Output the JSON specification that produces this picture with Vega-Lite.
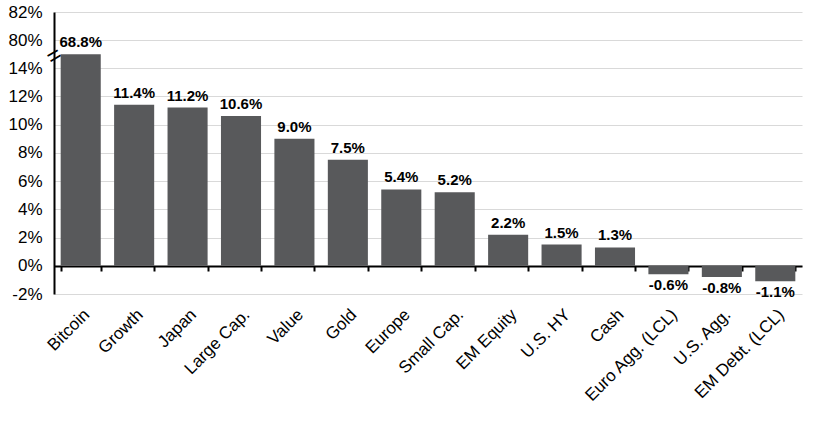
{
  "$schema": "https://vega.github.io/schema/vega-lite/v6.json",
  "width": 748,
  "height": 282,
  "autosize": {"type": "none"},
  "padding": {"left": 54, "top": 12, "right": 17, "bottom": 132},
  "background": "white",
  "config": {
    "view": {"stroke": null},
    "font": "Liberation Sans",
    "locale": {"number": {"decimal": ".", "thousands": ",", "grouping": [3], "currency": ["$", ""], "minus": "-"}}
  },
  "data": {
    "values": [
      {"asset": "Bitcoin", "ret": 0.688},
      {"asset": "Growth", "ret": 0.114},
      {"asset": "Japan", "ret": 0.112},
      {"asset": "Large Cap.", "ret": 0.106},
      {"asset": "Value", "ret": 0.090},
      {"asset": "Gold", "ret": 0.075},
      {"asset": "Europe", "ret": 0.054},
      {"asset": "Small Cap.", "ret": 0.052},
      {"asset": "EM Equity", "ret": 0.022},
      {"asset": "U.S. HY", "ret": 0.015},
      {"asset": "Cash", "ret": 0.013},
      {"asset": "Euro Agg. (LCL)", "ret": -0.006},
      {"asset": "U.S. Agg.", "ret": -0.008},
      {"asset": "EM Debt. (LCL)", "ret": -0.011}
    ]
  },
  "resolve": {"axis": {"y": "independent"}},
  "layer": [
    {
      "mark": {"type": "bar", "color": "#58595B"},
      "encoding": {
        "x": {
          "field": "asset", "type": "nominal", "sort": null,
          "scale": {"paddingInner": 0.25, "paddingOuter": 0.125},
          "axis": {
            "title": null, "orient": "bottom", "offset": -28,
            "labelAngle": -45, "labelFontSize": 17, "labelColor": "#000000",
            "labelPadding": 35, "domainColor": "#000000", "domainWidth": 2,
            "tickColor": "#000000", "tickWidth": 2, "tickSize": 5, "tickBand": "extent",
            "grid": false
          }
        },
        "y": {
          "field": "ret", "type": "quantitative",
          "scale": {"domain": [-0.02, 0.14, 0.70, 0.80, 0.82], "range": [282, 56, 42, 28, 0], "nice": false, "zero": false},
          "axis": {
            "title": null, "orient": "left",
            "values": [-0.02, 0, 0.02, 0.04, 0.06, 0.08, 0.10, 0.12, 0.14, 0.80, 0.82],
            "format": ".0%", "labelFontSize": 17, "labelColor": "#000000", "labelPadding": 12,
            "ticks": false, "domainColor": "#000000", "domainWidth": 2,
            "grid": true, "gridColor": "#D9D9D9", "gridWidth": 1
          }
        }
      }
    },
    {
      "transform": [{"filter": "datum.ret >= 0"}],
      "mark": {"type": "text", "baseline": "bottom", "dy": -4, "fontSize": 15, "fontWeight": "bold", "color": "#000000"},
      "encoding": {
        "x": {"field": "asset", "type": "nominal", "sort": null},
        "y": {
          "field": "ret", "type": "quantitative",
          "axis": {
            "title": null, "orient": "left", "values": [0.62], "labelExpr": "'='",
            "labelAngle": -30, "labelAlign": "center", "labelBaseline": "middle",
            "labelPadding": 0, "labelFontSize": 24, "labelColor": "#000000",
            "ticks": false, "domain": false, "grid": false
          }
        },
        "text": {"field": "ret", "type": "quantitative", "format": ".1%"}
      }
    },
    {
      "transform": [{"filter": "datum.ret < 0"}],
      "mark": {"type": "text", "baseline": "top", "dy": 4, "fontSize": 15, "fontWeight": "bold", "color": "#000000"},
      "encoding": {
        "x": {"field": "asset", "type": "nominal", "sort": null},
        "y": {"field": "ret", "type": "quantitative", "axis": null},
        "text": {"field": "ret", "type": "quantitative", "format": ".1%"}
      }
    }
  ]
}
